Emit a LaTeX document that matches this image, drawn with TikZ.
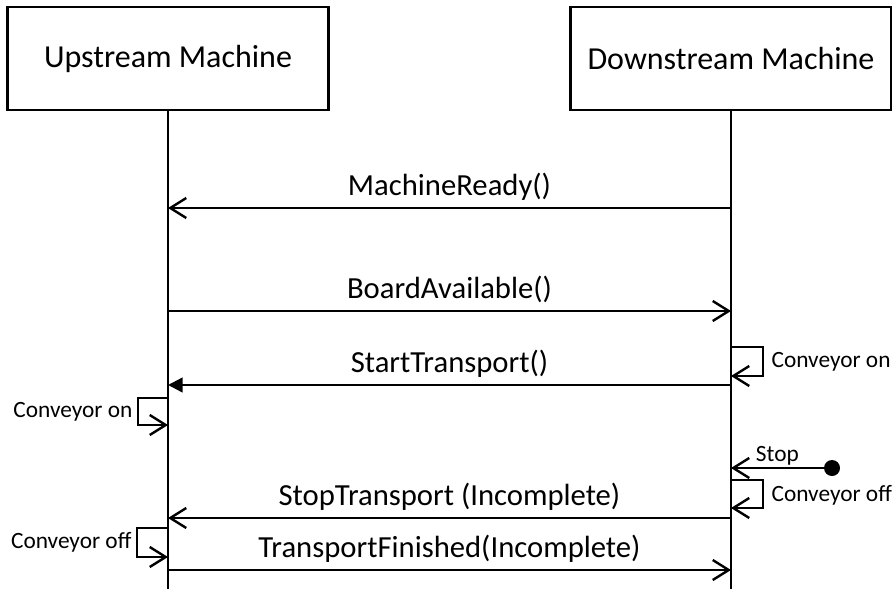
\documentclass[tikz,border=0pt]{standalone}
\usepackage{fontspec}
\setmainfont{Carlito}
\usetikzlibrary{arrows.meta}

\begin{document}
\begin{tikzpicture}[
        x=0.75pt, y=-0.75pt,
        machine/.style={draw, line width=1.8pt, minimum width=241pt,
            minimum height=77pt, font=\fontsize{24}{28}\selectfont},
        life/.style={line width=1.8pt},
        msg/.style={line width=1.8pt,
            -{Straight Barb[length=12pt,width=15pt]}},
        call/.style={line width=1.8pt,
            -{Triangle[length=11pt,width=11pt]}},
        msgtext/.style={font=\fontsize{23}{27}\selectfont, above, inner sep=5pt},
        note/.style={font=\fontsize{17.5}{20}\selectfont, inner sep=1pt},
        dot/.style={circle, fill, inner sep=0pt, minimum size=12pt}
        ]

        \useasboundingbox (0,0) rectangle (892,589);

        % Machines
        \node[machine] (up) at (168,58.5) {Upstream Machine};
        \node[machine] (down) at (731,58.5) {Downstream Machine};

        % Lifelines
        \coordinate (upEnd) at (168,589);
        \coordinate (downEnd) at (731,589);
        \draw[life] (up.south) -- (upEnd);
        \draw[life] (down.south) -- (downEnd);

        % MachineReady
        \coordinate (uReady) at (168,208);
        \coordinate (dReady) at (731,208);
        \draw[msg] (dReady) -- node[msgtext]{MachineReady()} (uReady);

        % BoardAvailable
        \coordinate (uBoard) at (168,311);
        \coordinate (dBoard) at (731,311);
        \draw[msg] (uBoard) -- node[msgtext]{BoardAvailable()} (dBoard);

        % Conveyor on (downstream)
        \coordinate (dOnA) at (731,347);
        \coordinate (dOnB) at (731,376);
        \draw[msg] (dOnA) -- ++(32,0) |- (dOnB);
        \node[note, anchor=west] (dOnText) at (770,362) {Conveyor on};

        % StartTransport
        \coordinate (uStart) at (168,385);
        \coordinate (dStart) at (731,385);
        \draw[call] (dStart) -- node[msgtext]{StartTransport()} (uStart);

        % Conveyor on (upstream)
        \coordinate (uOnA) at (168,398);
        \coordinate (uOnB) at (168,425);
        \draw[msg] (uOnA) -- ++(-30,0) |- (uOnB);
        \node[note, anchor=east] (uOnText) at (134,412) {Conveyor on};

        % Stop
        \node[dot] (stopDot) at (832,468) {};
        \coordinate (dStop) at (731,468);
        \draw[msg] (stopDot) -- node[note, above]{Stop} (dStop);

        % Conveyor off (downstream)
        \coordinate (dOffA) at (731,480);
        \coordinate (dOffB) at (731,508);
        \draw[msg] (dOffA) -- ++(32,0) |- (dOffB);
        \node[note, anchor=west] (dOffText) at (770,495) {Conveyor off};

        % StopTransport
        \coordinate (uStopT) at (168,518);
        \coordinate (dStopT) at (731,518);
        \draw[msg] (dStopT) -- node[msgtext]{StopTransport (Incomplete)} (uStopT);

        % Conveyor off (upstream)
        \coordinate (uOffA) at (168,528);
        \coordinate (uOffB) at (168,557);
        \draw[msg] (uOffA) -- ++(-31,0) |- (uOffB);
        \node[note, anchor=east] (uOffText) at (133,542) {Conveyor off};

        % TransportFinished
        \coordinate (uFin) at (168,570);
        \coordinate (dFin) at (731,570);
        \draw[msg] (uFin) -- node[msgtext]{TransportFinished(Incomplete)} (dFin);
    \end{tikzpicture}
\end{document}
